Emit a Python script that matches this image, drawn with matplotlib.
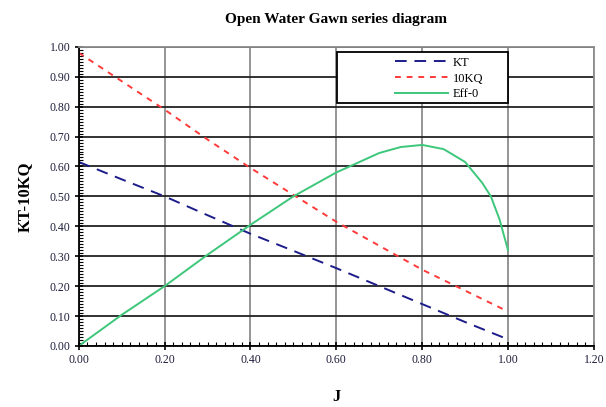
import matplotlib
matplotlib.use('Agg')
import matplotlib.pyplot as plt
from matplotlib.ticker import MultipleLocator
from matplotlib.patches import Rectangle

# values
j_lines = [0.0, 0.1, 0.2, 0.3, 0.4, 0.5, 0.6, 0.7, 0.8, 0.9, 1.0]
kt = [0.615, 0.557, 0.50, 0.437, 0.375, 0.318, 0.26, 0.20, 0.14, 0.08, 0.022]
kq10 = [0.98, 0.885, 0.79, 0.69, 0.595, 0.505, 0.415, 0.335, 0.255, 0.185, 0.115]

j_eff = [0.0, 0.1, 0.2, 0.3, 0.4, 0.5, 0.6, 0.7, 0.75, 0.8, 0.85, 0.9, 0.94, 0.96, 0.98, 1.0]
eff = [0.0, 0.104, 0.20, 0.305, 0.405, 0.50, 0.58, 0.645, 0.665, 0.672, 0.658,
       0.615, 0.545, 0.50, 0.424, 0.32]

plt.rcParams['font.family'] = ['Liberation Serif', 'DejaVu Serif']

fig = plt.figure(figsize=(6.06, 4.07), dpi=100)
ax = fig.add_axes([0.130, 0.150, 0.850, 0.735])

ax.plot(j_lines, kt, color='#1c1c8a', lw=1.4, ls=(0, (6, 4)), label='KT')
ax.plot(j_lines, kq10, color='#ff3a3a', lw=1.4, ls=(0, (3, 3)), label='10KQ')
ax.plot(j_eff, eff, color='#3cc77a', lw=1.4, label='Eff-0')

ax.set_xlim(0, 1.2)
ax.set_ylim(0, 1.0)
ax.xaxis.set_major_locator(MultipleLocator(0.2))
ax.xaxis.set_minor_locator(MultipleLocator(0.02))
ax.yaxis.set_major_locator(MultipleLocator(0.1))
ax.yaxis.set_minor_locator(MultipleLocator(0.01))
ax.xaxis.set_major_formatter(lambda v, p: f'{v:.2f}')
ax.yaxis.set_major_formatter(lambda v, p: f'{v:.2f}')

ax.yaxis.grid(True, which='major', color='#222222', lw=1.3)
ax.xaxis.grid(True, which='major', color='#8c8c8c', lw=1.3)
ax.set_axisbelow(True)

ax.tick_params(which='major', direction='inout', length=6, width=1.2,
               labelsize=8.5, pad=3, labelcolor='#1e1e3c')
ax.tick_params(which='minor', direction='in', length=3, width=0.8)

for side in ['left', 'bottom']:
    ax.spines[side].set_color('black')
    ax.spines[side].set_linewidth(1.3)
for side in ['top', 'right']:
    ax.spines[side].set_color('#8c8c8c')
    ax.spines[side].set_linewidth(1.3)

ax.set_title('Open Water Gawn series diagram', fontsize=11, fontweight='bold', pad=17)
ax.set_xlabel('J', fontsize=12, fontweight='bold', labelpad=16)
ax.set_ylabel('KT-10KQ', fontsize=12, fontweight='bold', labelpad=12)

# legend box like the excel one: frame drawn separately, entries on the right
ax.add_patch(Rectangle((0.501, 0.813), 0.332, 0.170, transform=ax.transAxes,
                       facecolor='white', edgecolor='black', lw=1.3, zorder=5))
leg = ax.legend(loc='upper left', bbox_to_anchor=(0.595, 1.0), fontsize=9,
                frameon=False, borderpad=0.3, labelspacing=0.3,
                handlelength=4.2, handletextpad=0.4)
leg.set_zorder(6)

fig.savefig('out.png', dpi=100)
